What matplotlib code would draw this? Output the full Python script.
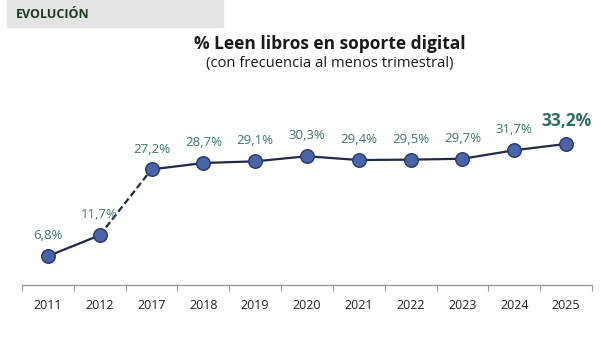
import matplotlib.pyplot as plt
from matplotlib.patches import Rectangle

years = ["2011", "2012", "2017", "2018", "2019", "2020", "2021", "2022", "2023", "2024", "2025"]
pct = [6.8, 11.7, 27.2, 28.7, 29.1, 30.3, 29.4, 29.5, 29.7, 31.7, 33.2]
labels = ["6,8%", "11,7%", "27,2%", "28,7%", "29,1%", "30,3%", "29,4%", "29,5%", "29,7%", "31,7%", "33,2%"]

plt.rcParams['font.family'] = ['Open Sans', 'DejaVu Sans']

fig = plt.figure(figsize=(6.01, 3.42), dpi=100)
ax = fig.add_axes([22 / 601, 1 - 285 / 342, 570 / 601, 170 / 342])

x = list(range(len(years)))
line_col = "#1f2a44"
# solid segments, dashed jump across the gap 2012 -> 2017
ax.plot(x[:2], pct[:2], color=line_col, lw=1.6, zorder=2)
ax.plot(x[1:3], pct[1:3], color=line_col, lw=1.6, ls=(0, (3, 1.5)), zorder=2)
ax.plot(x[2:], pct[2:], color=line_col, lw=1.6, zorder=2)
ax.scatter(x, pct, s=95, color="#4a64a8", edgecolor="#263a66", linewidth=1.0, zorder=3)

for i, (v, lab) in enumerate(zip(pct, labels)):
    if i == len(pct) - 1:
        ax.annotate(lab, (i, v), xytext=(0, 10), textcoords="offset points",
                    ha="center", va="bottom", fontsize=12.5, fontweight="bold", color="#2c6e62")
    else:
        ax.annotate(lab, (i, v), xytext=(0, 10), textcoords="offset points",
                    ha="center", va="bottom", fontsize=9.5, color="#3a7a6c")

ax.set_xlim(-0.5, len(years) - 0.5)
ax.set_ylim(0, 40)
ax.set_yticks([])
ax.set_xticks(x)
ax.set_xticklabels(years, fontsize=9, color="#222222")
ax.tick_params(axis="x", length=0, pad=10)
ax.set_xticks([i - 0.5 for i in range(len(years) + 1)], minor=True)
ax.tick_params(axis="x", which="minor", length=4, color="#999999", width=0.8)
for s in ["top", "right", "left"]:
    ax.spines[s].set_visible(False)
ax.spines["bottom"].set_color("#999999")
ax.spines["bottom"].set_linewidth(1.0)
ax.patch.set_alpha(0)

# header band
fig.patches.append(Rectangle((7 / 601, 1 - 27 / 342), 216 / 601, 27 / 342,
                             transform=fig.transFigure, color="#e4e4e4", zorder=0))
fig.text(16 / 601, 1 - 14 / 342, "EVOLUCIÓN", fontsize=9, fontweight="bold",
         color="#1e3a1e", va="center", ha="left")

fig.text(330 / 601, 1 - 44 / 342, "% Leen libros en soporte digital", fontsize=12.5,
         fontweight="bold", color="#1a1a1a", ha="center", va="center")
fig.text(330 / 601, 1 - 63 / 342, "(con frecuencia al menos trimestral)", fontsize=10.6,
         color="#1a1a1a", ha="center", va="center")

fig.savefig("out.png", dpi=100)
